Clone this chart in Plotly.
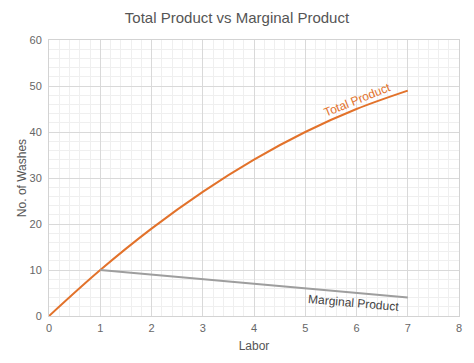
import plotly.graph_objects as go

labor = [0, 1, 2, 3, 4, 5, 6, 7]
total_product = [0, 10, 19, 27, 34, 40, 45, 49]
mp_labor = [1, 2, 3, 4, 5, 6, 7]
marginal_product = [10, 9, 8, 7, 6, 5, 4]

x_ticks = [0, 1, 2, 3, 4, 5, 6, 7, 8]
y_ticks = [0, 10, 20, 30, 40, 50, 60]

orange = "#E2722B"
grey = "#9E9E9E"

fig = go.Figure()
fig.add_trace(go.Scatter(x=labor, y=total_product, mode="lines",
                         line=dict(color=orange, width=2, shape="spline", smoothing=1.0),
                         name="Total Product", hoverinfo="x+y"))
fig.add_trace(go.Scatter(x=mp_labor, y=marginal_product, mode="lines",
                         line=dict(color=grey, width=2),
                         name="Marginal Product"))

fig.add_annotation(x=6.01, y=47.0, xref="x", yref="y", text="Total Product",
                   showarrow=False, textangle=-22,
                   font=dict(family="Liberation Sans, Arial", size=12, color=orange))
fig.add_annotation(x=5.95, y=2.8, xref="x", yref="y", text="Marginal Product",
                   showarrow=False, textangle=5,
                   font=dict(family="Liberation Sans, Arial", size=12, color="#444444"))

axis_common = dict(
    showgrid=True, gridcolor="#D9D9D9", gridwidth=1,
    zeroline=False, showline=True, linecolor="#D3D3D3", linewidth=1, mirror=True,
    tickfont=dict(family="Liberation Sans, Arial", size=11, color="#666666"),
    ticks="", fixedrange=True,
)

fig.update_xaxes(range=[0, 8], tickvals=x_ticks, ticktext=[str(v) for v in x_ticks],
                 minor=dict(dtick=0.2, showgrid=True, gridcolor="#EFEFEF", gridwidth=1),
                 ticklabelstandoff=2,
                 title=dict(text="Labor", font=dict(family="Liberation Sans, Arial", size=12, color="#555555"),
                            standoff=8),
                 **axis_common)
fig.update_yaxes(range=[0, 60], tickvals=y_ticks, ticktext=[str(v) for v in y_ticks],
                 minor=dict(dtick=2, showgrid=True, gridcolor="#EFEFEF", gridwidth=1),
                 ticklabelstandoff=4,
                 title=dict(text="No. of Washes", font=dict(family="Liberation Sans, Arial", size=12, color="#555555"),
                            standoff=0),
                 **axis_common)

fig.update_layout(
    width=474, height=363,
    margin=dict(l=49, r=15, t=40, b=47),
    paper_bgcolor="white", plot_bgcolor="white",
    showlegend=False,
    title=dict(text="Total Product vs Marginal Product", x=0.5, xanchor="center",
               y=1 - 18/363, yanchor="middle",
               font=dict(family="Liberation Sans, Arial", size=15, color="#555555")),
)

fig.write_html("out.html", config={"displayModeBar": False},
               post_script="document.body.style.margin='0';document.body.style.overflow='hidden';")
